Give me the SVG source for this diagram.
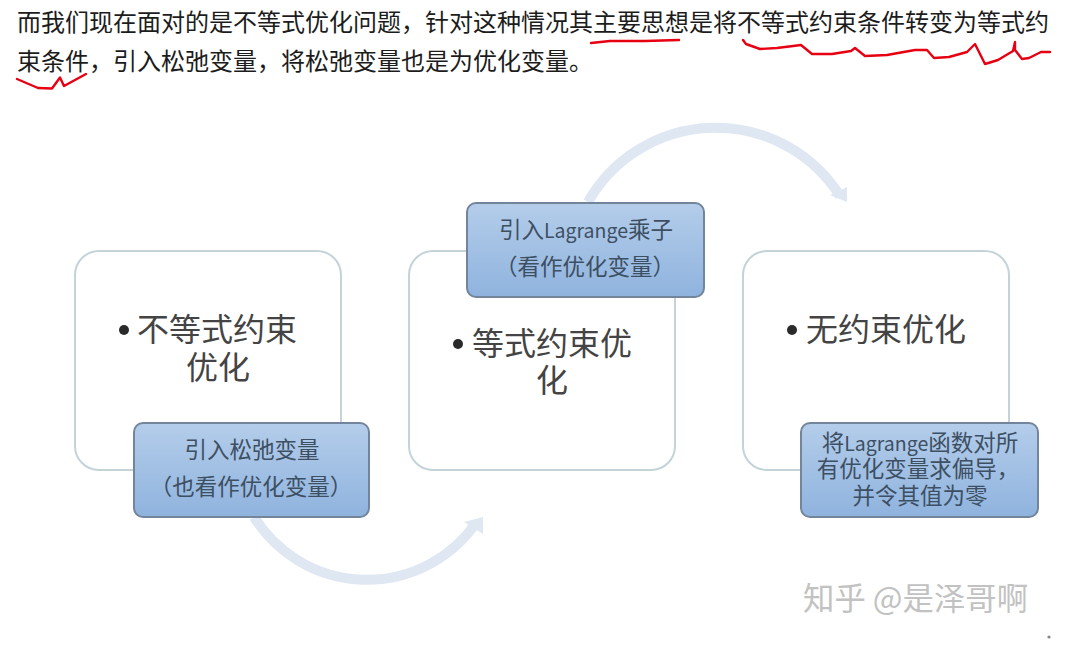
<svg xmlns="http://www.w3.org/2000/svg" width="1076" height="656" viewBox="0 0 1076 656">
<style>
text{font-family:"Noto Sans CJK SC","Liberation Sans",sans-serif}
.cap{font-size:24px;fill:#1c1c1c}
.big{font-size:32px;fill:#444}
.sm{font-size:22.5px;fill:#3d4f63;text-anchor:middle}
.lat{font-size:19.5px}
.wm{font-size:31.4px;fill:#c2c2c2}
.card{fill:#fff;stroke:#c3d3d8;stroke-width:2}
.tag{fill:url(#g);stroke:#72859a;stroke-width:2}
.dot{fill:#2a2a2a}
.ink{fill:none;stroke:#e60012;stroke-width:2.4;stroke-linejoin:round;stroke-linecap:round}
.arc{fill:none;stroke:#dfe7f2;stroke-width:10}
.head{fill:#dfe7f2}
</style>
<defs>
<linearGradient id="g" x1="0" y1="0" x2="0" y2="1"><stop offset="0" stop-color="#b4cdea"/><stop offset="1" stop-color="#8fb3de"/></linearGradient>
</defs>
<rect width="1076" height="656" fill="#fff"/>
<g id="caption">
<text class="cap" x="17" y="31">而我们现在面对的是不等式优化问题，针对这种情况其主要思想是将不等式约束条件转变为等式约</text>
<text class="cap" x="17" y="70">束条件，引入松弛变量，将松弛变量也是为优化变量。</text>
</g>
<g id="annotations">
<path class="ink" d="M591 43 L610 41 L645 41 L679 40"/>
<path class="ink" d="M743 40 L746 44 L760 49 L777 48 L801 45 L812 54 L832 54 L851 51 L855 48 L865 56 L887 55 L915 50 L927 50 L934 58 L949 57 L967 52 L975 44 L985 64 L998 60 L1013 51 L1015 42 L1015 50 L1022 59 L1029 58 L1041 52 L1050 52"/>
<path class="ink" d="M17 79 L38 88 L52 88.5 L60 77.5 L64 86 L86 74"/>
</g>
<g id="node-inequality">
<rect class="card" x="75" y="251" width="266" height="219" rx="24"/>
<circle class="dot" cx="124" cy="330" r="5"/>
<text class="big" x="137" y="341">不等式约束</text>
<text class="big" x="186" y="379">优化</text>
</g>
<g id="node-equality">
<rect class="card" x="409" y="251" width="266" height="219" rx="24"/>
<circle class="dot" cx="458" cy="344" r="5"/>
<text class="big" x="472" y="355">等式约束优</text>
<text class="big" x="536" y="392">化</text>
</g>
<g id="node-unconstrained">
<rect class="card" x="743" y="251" width="266" height="219" rx="24"/>
<circle class="dot" cx="792" cy="330" r="5"/>
<text class="big" x="806" y="341">无约束优化</text>
</g>
<g id="connectors">
<path class="arc" d="M254 517 A133 133 0 0 0 476 523"/>
<polygon class="head" points="483,517 464,522 483,534"/>
<path class="arc" d="M588 202 A147 147 0 0 1 840 196"/>
<polygon class="head" points="847,202 830,195 847,187"/>
</g>
<g id="tag-slack">
<rect class="tag" x="134" y="423" width="235" height="94" rx="9"/>
<text class="sm" x="252" y="458">引入松弛变量</text>
<text class="sm" x="251" y="495">（也看作优化变量）</text>
</g>
<g id="tag-multiplier">
<rect class="tag" x="467" y="203" width="237" height="94" rx="9"/>
<text class="sm" x="586" y="238">引入<tspan class="lat">Lagrange</tspan>乘子</text>
<text class="sm" x="585" y="275">（看作优化变量）</text>
</g>
<g id="tag-derivative">
<rect class="tag" x="801" y="423" width="237" height="94" rx="9"/>
<text class="sm" x="920" y="451">将<tspan class="lat">Lagrange</tspan>函数对所</text>
<text class="sm" x="918" y="477">有优化变量求偏导，</text>
<text class="sm" x="920" y="504">并令其值为零</text>
</g>
<g id="watermark">
<text class="wm" x="803" y="610">知乎 @是泽哥啊</text>
<circle cx="1049" cy="637" r="1.6" fill="#888"/>
</g>
</svg>
